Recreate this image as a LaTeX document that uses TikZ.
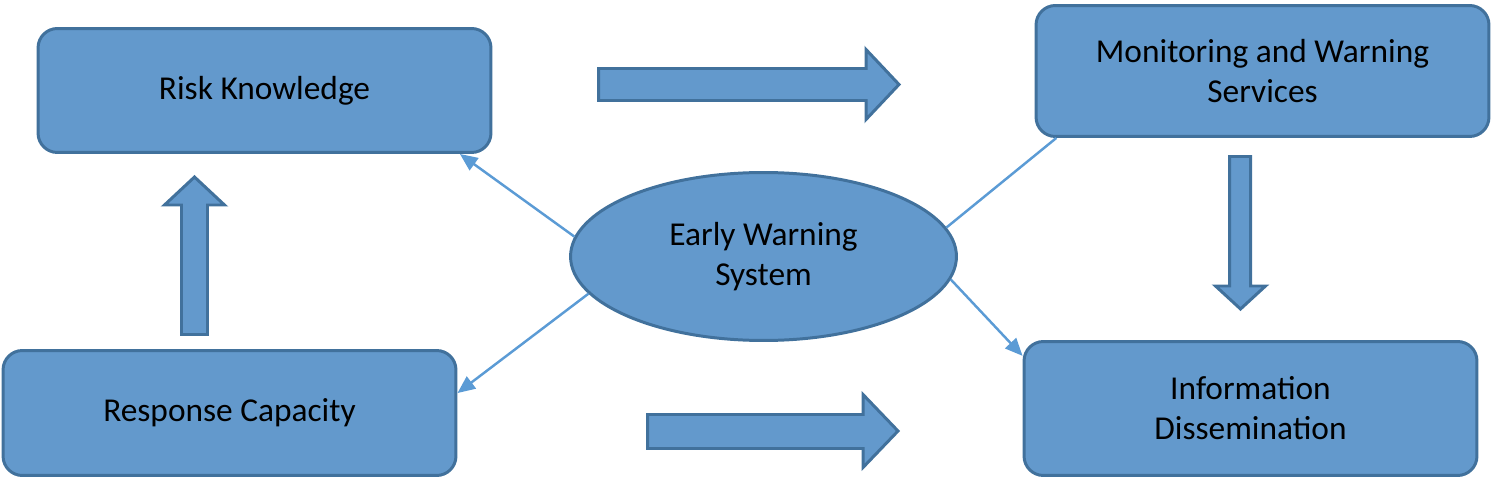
\documentclass[tikz,border=0pt]{standalone}
\usepackage{fontspec}
\setmainfont{Carlito}
\usepackage{xcolor}
\usepackage{tikz}
\usetikzlibrary{arrows.meta,positioning,shapes.geometric}
\definecolor{ewsfill}{HTML}{6399CC}
\definecolor{ewsedge}{HTML}{41719C}
\definecolor{ewsline}{HTML}{5B9BD5}

\begin{document}
\begin{tikzpicture}[
  x=0.02cm,y=-0.02cm,
  font=\fontsize{19}{22.8}\selectfont,
  stage/.style={draw=ewsedge,fill=ewsfill,line width=1.7pt,rounded corners=11pt,align=center,minimum width=9.06cm},
  hub/.style={ellipse,draw=ewsedge,fill=ewsfill,line width=1.7pt,align=center,minimum width=7.72cm,minimum height=3.36cm},
  flow/.style={draw=ewsedge,fill=ewsfill,line width=1.7pt,line join=miter},
  link/.style={ewsline,line width=1.4pt},
  linkarrow/.style={link,-{Triangle[length=10pt,width=8.5pt]}}
]
\useasboundingbox (0,0) rectangle (1496,479);
% boxes
\node[stage,minimum height=2.48cm] (risk) at (264.5,90.5) {Risk Knowledge};
\node[stage,minimum height=2.62cm] (monitor) at (1262.5,71) {Monitoring and Warning\\Services};
\node[stage,minimum height=2.5cm] (response) at (229.5,413) {Response Capacity};
\node[stage,minimum height=2.68cm] (dissem) at (1250.5,408.5) {Information\\Dissemination};
\node[hub] (ews) at (763.5,256.5) {Early Warning\\System};
% block arrows
\draw[flow] (598.5,68.5) -- (866,68.5) -- (866,49.5) -- (899,84.5) -- (866,119.5) -- (866,100.5) -- (598.5,100.5) -- cycle;
\draw[flow] (647.5,414.5) -- (863,414.5) -- (863,394.5) -- (898,431) -- (863,467.5) -- (863,448.5) -- (647.5,448.5) -- cycle;
\draw[flow] (181.5,334.5) -- (181.5,205) -- (164.5,205) -- (194.5,177) -- (224.5,205) -- (207.5,205) -- (207.5,334.5) -- cycle;
\draw[flow] (1229.5,156.5) -- (1229.5,286) -- (1215.5,286) -- (1240.5,309) -- (1265.5,286) -- (1250.5,286) -- (1250.5,156.5) -- cycle;
% links from the hub
\draw[linkarrow] (ews.174) -- (risk.-18);
\draw[linkarrow] (ews.192) -- (response.5);
\draw[link] (ews.9) -- (monitor.198);
\draw[linkarrow] (ews.-7) -- (dissem.167);
\end{tikzpicture}
\end{document}
